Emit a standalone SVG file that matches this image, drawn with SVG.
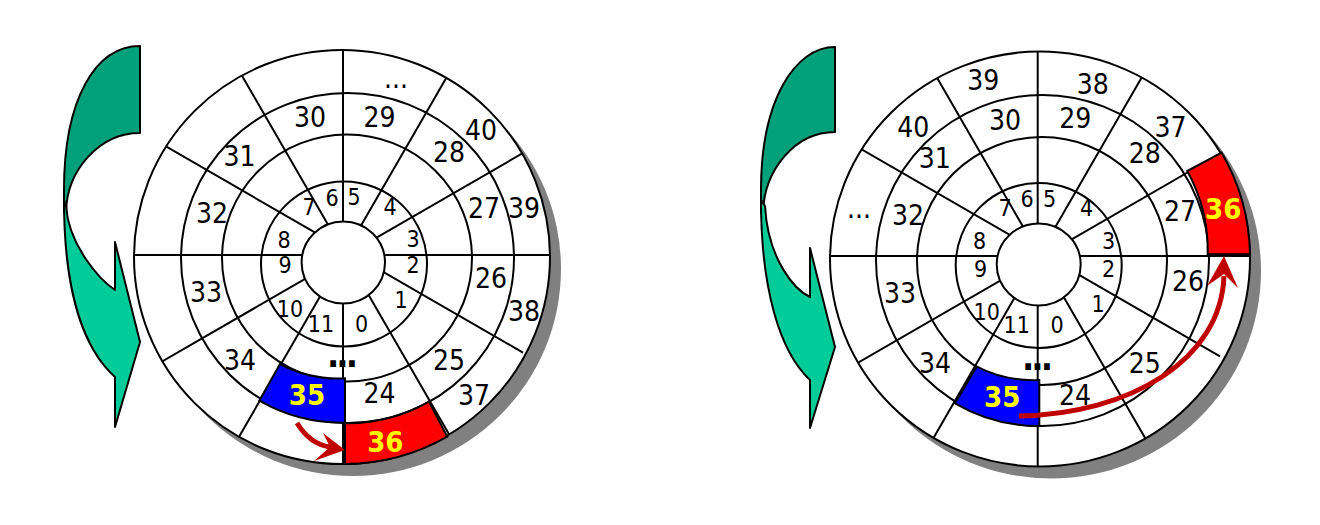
<svg xmlns="http://www.w3.org/2000/svg" width="1320" height="525" viewBox="0 0 1320 525">
<style>
.ln{fill:none;stroke:#000;stroke-width:2}
.wf{fill:#fff;stroke:#000;stroke-width:2}
.sh{fill:#808080}
text{font-family:"DejaVu Sans Condensed","DejaVu Sans",sans-serif;font-stretch:condensed;text-anchor:middle;fill:#000}
.t{font-size:28px}
.s{font-size:23px}
.b{font-size:29px;font-weight:bold;fill:#FFFF00}
.d{font-size:36px;font-weight:bold;letter-spacing:-3px}
.gd{fill:#00A07A;stroke:#000;stroke-width:2;stroke-linejoin:round}
.gl{fill:#00CC99;stroke:#000;stroke-width:2;stroke-linejoin:round}
.cb{fill:#0000FF;stroke:#000;stroke-width:2}
.cr{fill:#FF0000;stroke:#000;stroke-width:2}
.mv{fill:none;stroke:#C00000;stroke-width:5}
.mh{fill:#C00000}
</style>
<defs>
<clipPath id="clipL"><ellipse cx="342" cy="257" rx="208" ry="207"/></clipPath>
<clipPath id="clipR"><ellipse cx="1040" cy="259" rx="210" ry="207.5"/></clipPath>
</defs>
<rect width="1320" height="525" fill="#fff"/>

<g id="rotate-arrow-left">
<path class="gd" d="M140,46 L140,133 C99.7,133 67,169.7 66,212 L64,212 L64,190 C64,100 95,46 140,46 Z"/>
<path class="gl" d="M64,200 C64,295 85,350 115,377 L115,427 L140,342 L115,242 L115,290 C100,280 68,245 66,205 Z"/>
</g>
<g id="rotate-arrow-right">
<path class="gd" d="M835,47 L835,132 C795,132 764,170 763,213 L761,213 L761,190 C761,100 795,47 835,47 Z"/>
<path class="gl" d="M761,200 C761,290 780,352 810,380 L810,428 L835,347 L810,248 L810,297 C795,290 768,260 765,206 Z"/>
</g>

<g id="disk-left">
<ellipse class="sh" cx="353" cy="269" rx="208" ry="207"/>
<ellipse class="wf" cx="342" cy="257" rx="208" ry="207"/>
<ellipse class="ln" cx="347.5" cy="258" rx="166.5" ry="165"/>
<ellipse class="ln" cx="347" cy="258" rx="125" ry="123.5"/>
<ellipse class="ln" cx="344" cy="264" rx="83" ry="82.5"/>
<g class="ln" clip-path="url(#clipL)">
<line x1="343" y1="30" x2="343" y2="490"/>
<line x1="120" y1="255" x2="570" y2="255"/>
<line x1="464" y1="47.2" x2="224" y2="462.8"/>
<line x1="225.5" y1="47.2" x2="465.5" y2="462.8"/>
<line x1="550.8" y1="137" x2="135.2" y2="377"/>
<line x1="343" y1="248.7" x2="135.2" y2="128.7"/>
<line x1="343" y1="248.7" x2="523" y2="352.6"/>
</g>
<ellipse class="wf" cx="343.3" cy="262.5" rx="41.7" ry="41"/>
<g id="cell-35-left"><path class="cb" d="M280,364 A124,124 0 0 0 345,378.3 L345,422.7 A166,166 0 0 1 259.3,400.7 Z"/><text class="b" x="307" y="405">35</text></g>
<g id="cell-36-left"><path class="cr" d="M345,423.3 A166,166 0 0 0 429,401.7 L447.3,436.7 A208,208 0 0 1 345,464 Z"/><text class="b" x="385.3" y="451.7">36</text></g>
<g id="labels-left">
<text class="t" x="310" y="127">30</text>
<text class="t" x="239.5" y="166">31</text>
<text class="t" x="212" y="223">32</text>
<text class="t" x="379.5" y="127">29</text>
<text class="t" x="396" y="88">...</text>
<text class="t" x="481" y="140">40</text>
<text class="t" x="449" y="161.7">28</text>
<text class="t" x="484" y="218">27</text>
<text class="t" x="524" y="218">39</text>
<text class="t" x="491" y="288">26</text>
<text class="t" x="524" y="321">38</text>
<text class="t" x="449" y="370">25</text>
<text class="t" x="474" y="405">37</text>
<text class="t" x="379.5" y="403">24</text>
<text class="t" x="240" y="370">34</text>
<text class="t" x="206" y="301.7">33</text>
<text class="d" x="341" y="367">...</text>
<text class="s" x="332" y="205.7">6</text>
<text class="s" x="354" y="205">5</text>
<text class="s" x="309" y="215">7</text>
<text class="s" x="284" y="248">8</text>
<text class="s" x="285" y="273">9</text>
<text class="s" x="290" y="317">10</text>
<text class="s" x="321" y="331.7">11</text>
<text class="s" x="361.7" y="331.7">0</text>
<text class="s" x="401" y="308">1</text>
<text class="s" x="413" y="273">2</text>
<text class="s" x="413" y="247">3</text>
<text class="s" x="390" y="215">4</text>
</g>
</g>

<g id="disk-right">
<ellipse class="sh" cx="1051" cy="271" rx="210" ry="207.5"/>
<ellipse class="wf" cx="1040" cy="259" rx="210" ry="207.5"/>
<ellipse class="ln" cx="1042.5" cy="260.5" rx="166.5" ry="165.5"/>
<ellipse class="ln" cx="1042" cy="261" rx="125" ry="124"/>
<ellipse class="ln" cx="1038.7" cy="265.5" rx="83" ry="82.5"/>
<g class="ln" clip-path="url(#clipR)">
<line x1="1037.7" y1="30" x2="1037.7" y2="490"/>
<line x1="815" y1="256" x2="1265" y2="256"/>
<line x1="1158.6" y1="48.2" x2="918.6" y2="463.8"/>
<line x1="920" y1="48.2" x2="1160" y2="463.8"/>
<line x1="1245.5" y1="139" x2="829.9" y2="379"/>
<line x1="1037.7" y1="251" x2="829.9" y2="131"/>
<line x1="1037.7" y1="251" x2="1220" y2="356.3"/>
</g>
<ellipse class="wf" cx="1038.7" cy="264.5" rx="42" ry="41"/>
<g id="cell-35-right"><path class="cb" d="M976.7,366.7 A124,124 0 0 0 1039.3,380 L1039.3,426 A166,166 0 0 1 955,403.3 Z"/><text class="b" x="1002.2" y="406.7">35</text></g>
<g id="cell-36-right"><path class="cr" d="M1187.3,171 L1221.7,152.7 A210,210 0 0 1 1250,254.3 L1207.7,254.3 A166,166 0 0 0 1187.3,171 Z"/><text class="b" x="1223.2" y="219">36</text></g>
<g id="labels-right">
<text class="t" x="983.3" y="90">39</text>
<text class="t" x="1005" y="130">30</text>
<text class="t" x="913.3" y="136.7">40</text>
<text class="t" x="934.7" y="168">31</text>
<text class="t" x="859" y="218">...</text>
<text class="t" x="908" y="225">32</text>
<text class="t" x="1092.8" y="94">38</text>
<text class="t" x="1075.3" y="128">29</text>
<text class="t" x="1170.5" y="136.7">37</text>
<text class="t" x="1144.7" y="163">28</text>
<text class="t" x="1180" y="221">27</text>
<text class="t" x="1188" y="290.7">26</text>
<text class="t" x="1144.7" y="373">25</text>
<text class="t" x="1075" y="405">24</text>
<text class="t" x="900" y="303">33</text>
<text class="t" x="935" y="372.7">34</text>
<text class="d" x="1036" y="369.5">...</text>
<text class="s" x="1027" y="206.7">6</text>
<text class="s" x="1049.7" y="206.7">5</text>
<text class="s" x="1005" y="216">7</text>
<text class="s" x="1086.7" y="216">4</text>
<text class="s" x="979.7" y="249">8</text>
<text class="s" x="1108.5" y="249">3</text>
<text class="s" x="980.5" y="276.7">9</text>
<text class="s" x="1108.5" y="276.7">2</text>
<text class="s" x="986.7" y="320">10</text>
<text class="s" x="1098" y="311.7">1</text>
<text class="s" x="1016.7" y="333.3">11</text>
<text class="s" x="1057" y="333.3">0</text>
</g>
</g>

<g id="connectors">
<g id="move-left">
<path class="mv" d="M297,423 C305,436 316,445 330,447"/>
<polygon class="mh" points="345,450 323,433 330,447 314,461"/>
</g>
<g id="move-right">
<path class="mv" d="M1019,416 C1130,414 1221,360 1224,276"/>
<polygon class="mh" points="1224,256 1207,286 1224,274 1238,288"/>
</g>
</g>
</svg>
